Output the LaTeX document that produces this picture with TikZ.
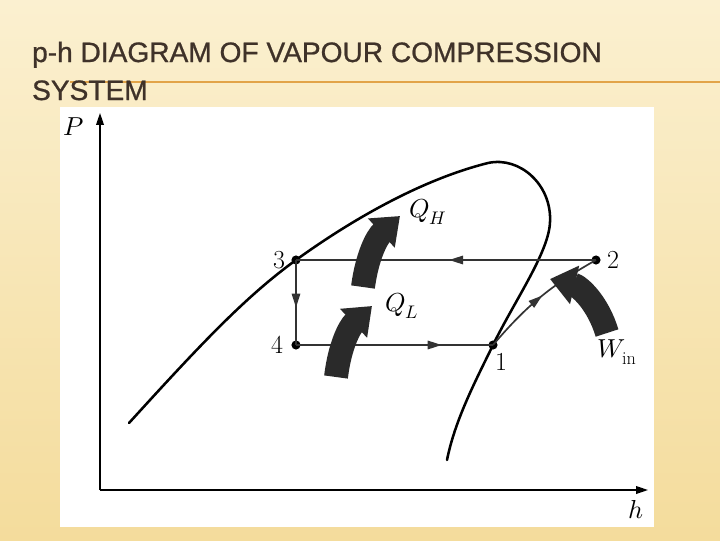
\documentclass[tikz,border=0pt]{standalone}
\usepackage{fontspec}
\usepackage{unicode-math}
\setmathfont{Latin Modern Math}
\usetikzlibrary{arrows.meta, decorations.markings}
\newfontfamily\titlefont[FakeBold=0.8]{Liberation Sans}
\definecolor{slideTop}{HTML}{FBF0D0}
\definecolor{slideBot}{HTML}{F4DC9C}
\definecolor{ruleOrange}{HTML}{E2A449}
\definecolor{titleInk}{HTML}{3F3229}
\definecolor{heatInk}{HTML}{2A2A2A}
\definecolor{cycInk}{HTML}{333333}
\tikzset{
  ttl/.style={font=\titlefont\fontsize{40}{44}\selectfont, text=titleInk, anchor=base west, inner sep=0pt},
  lbl/.style={font=\fontsize{37}{42}\selectfont, inner sep=0pt},
  axis/.style={line width=2pt, -{Triangle[length=17pt,width=11pt]}},
  dome/.style={line width=3.6pt, line cap=round},
  leg/.style={line width=2.4pt, draw=cycInk},
  midarr/.style={postaction={decorate}, decoration={markings,
      mark=at position #1 with {\arrow{Triangle[length=20pt,width=12pt]}}}},
  dot/.style={circle, fill=black, minimum size=13pt, inner sep=0pt},
  heatarr/.style={draw=heatInk, line width=34pt, -{Triangle[length=36pt,width=54pt]}},
}

\begin{document}
\begin{tikzpicture}[x=0.05cm, y=-0.05cm]
  % slide background and title
  \shade[top color=slideTop, bottom color=slideBot] (0,0) rectangle (720,540);
  \useasboundingbox (0,0) rectangle (720,540);
  \draw[ruleOrange, line width=2.5pt] (70,82) -- (720,82);
  \node[ttl] (title1) at (32,62) {p-h DIAGRAM OF VAPOUR COMPRESSION};
  \node[ttl] (title2) at (32,100) {SYSTEM};
  % figure panel
  \fill[white] (60,107) rectangle (654,527);
  % axes
  \coordinate (orig) at (100,490);
  \coordinate (ptop) at (100,113);
  \coordinate (hend) at (648,490);
  \draw[axis] (orig) -- (ptop);
  \draw[axis] (orig) -- (hend);
  \node[lbl] (plabel) at (74,127) {$P$};
  \node[lbl] (hlabel) at (636,510) {$h$};
  % state points
  \node[dot] (p1) at (493,345) {};
  \node[dot] (p2) at (596,260) {};
  \node[dot] (p3) at (296,260) {};
  \node[dot] (p4) at (296,345) {};
  % saturation dome
  \coordinate (crit) at (488,163);
  \coordinate (bulge) at (550,222);
  \draw[dome] (129,423) .. controls (200,345) and (245,297) .. (p3.center)
    .. controls (350,221) and (420,180) .. (crit)
    .. controls (520,156) and (552,185) .. (bulge)
    .. controls (549,252) and (515,300) .. (p1.center)
    .. controls (475,382) and (455,420) .. (447,460);
  % cycle
  \draw[leg, midarr=0.49] (p2.center) -- (p3.center);
  \draw[leg, midarr=0.56] (p3.center) -- (p4.center);
  \draw[leg, midarr=0.74] (p4.center) -- (p1.center);
  \draw[leg, midarr=0.52] (p1.center) to[bend left=10] (p2.center);
  \node[lbl] (n1) at (501,362) {1};
  \node[lbl] (n2) at (613,260) {2};
  \node[lbl] (n3) at (279,260) {3};
  \node[lbl] (n4) at (277,345) {4};
  % heat and work arrows
  \coordinate (qh-tail) at (363,287);
  \coordinate (qh-tip) at (400,216);
  \coordinate (ql-tail) at (336,377);
  \coordinate (ql-tip) at (372,306);
  \coordinate (w-tail) at (607,333);
  \coordinate (w-tip) at (550,279);
  \draw[heatarr] (qh-tail) to[bend left=20] (qh-tip);
  \draw[heatarr] (ql-tail) to[bend left=20] (ql-tip);
  \draw[heatarr] (w-tail) to[bend right=30] (w-tip);
  \node[lbl] (qh) at (428,212) {$Q_H$};
  \node[lbl] (ql) at (402,306) {$Q_L$};
  \node[lbl] (win) at (617,352) {$W_{\mathrm{in}}$};
\end{tikzpicture}
\end{document}
